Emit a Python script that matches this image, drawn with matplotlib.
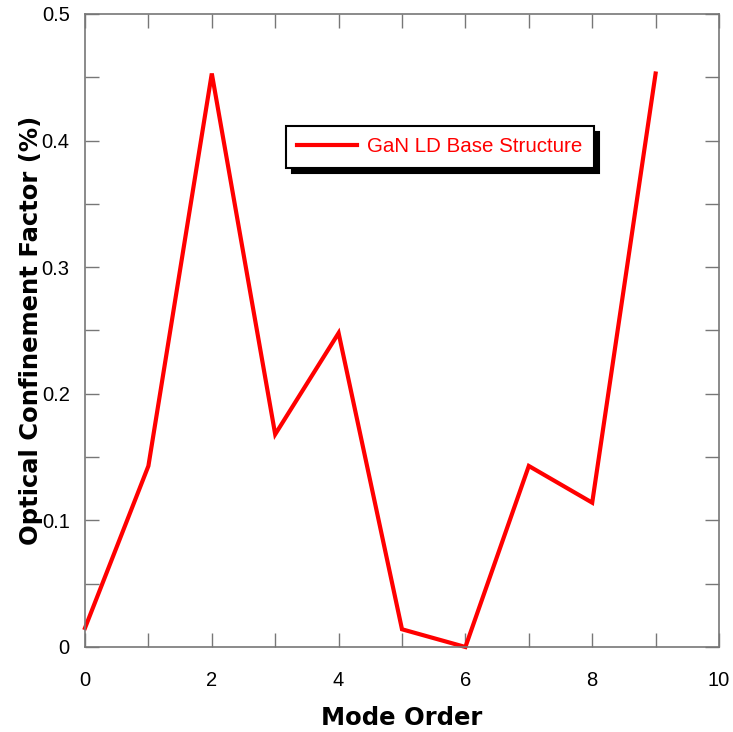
import matplotlib
matplotlib.use("Agg")
import matplotlib.pyplot as plt
from matplotlib.ticker import MultipleLocator, FuncFormatter

mode_order = [0, 1, 2, 3, 4, 5, 6, 7, 8, 9]
confinement = [0.015, 0.143, 0.453, 0.168, 0.248, 0.014, 0.0, 0.143, 0.114, 0.453]
series_label = "GaN LD Base Structure"

fig = plt.figure(figsize=(7.33, 7.32), dpi=100)
ax = fig.add_axes([85 / 733, 1 - 647 / 732, 634 / 733, 633 / 732])

ax.plot(mode_order, confinement, color="#ff0000", lw=3.0, label=series_label,
        solid_joinstyle="miter", clip_on=False)

ax.set_xlim(0, 10)
ax.set_ylim(0, 0.5)
ax.xaxis.set_major_locator(MultipleLocator(2))
ax.xaxis.set_minor_locator(MultipleLocator(1))
ax.yaxis.set_major_locator(MultipleLocator(0.1))
ax.yaxis.set_minor_locator(MultipleLocator(0.05))
ax.yaxis.set_major_formatter(FuncFormatter(lambda v, p: "0" if v == 0 else f"{v:.1f}"))

tick_color = "#777777"
ax.tick_params(which="both", direction="in", top=True, right=True,
               color=tick_color, width=1.0)
ax.tick_params(which="major", length=10, labelsize=14.5)
ax.tick_params(which="minor", length=10)
ax.tick_params(axis="x", which="major", pad=17)
ax.tick_params(axis="y", which="major", pad=11)
for lab in ax.get_xticklabels() + ax.get_yticklabels():
    lab.set_fontfamily("Liberation Sans")
for sp in ax.spines.values():
    sp.set_color(tick_color)
    sp.set_linewidth(1.2)

ax.set_xlabel("Mode Order", fontsize=17.5, fontweight="bold", labelpad=12)
ax.set_ylabel("Optical Confinement Factor (%)", fontsize=17.5, fontweight="bold", labelpad=-1)

leg = ax.legend(loc="center", bbox_to_anchor=((440 - 85) / 634, (647 - 147) / 633),
                frameon=True, fancybox=False,
                shadow={"color": "black", "alpha": 1.0, "ox": 4, "oy": -4},
                prop={"family": "Liberation Sans", "size": 14.8},
                handlelength=2.9, handletextpad=0.5, borderpad=0.55, borderaxespad=0)
leg.get_frame().set_edgecolor("black")
leg.get_frame().set_linewidth(1.5)
for t in leg.get_texts():
    t.set_color("#ff0000")

fig.savefig("out.png", dpi=100)
